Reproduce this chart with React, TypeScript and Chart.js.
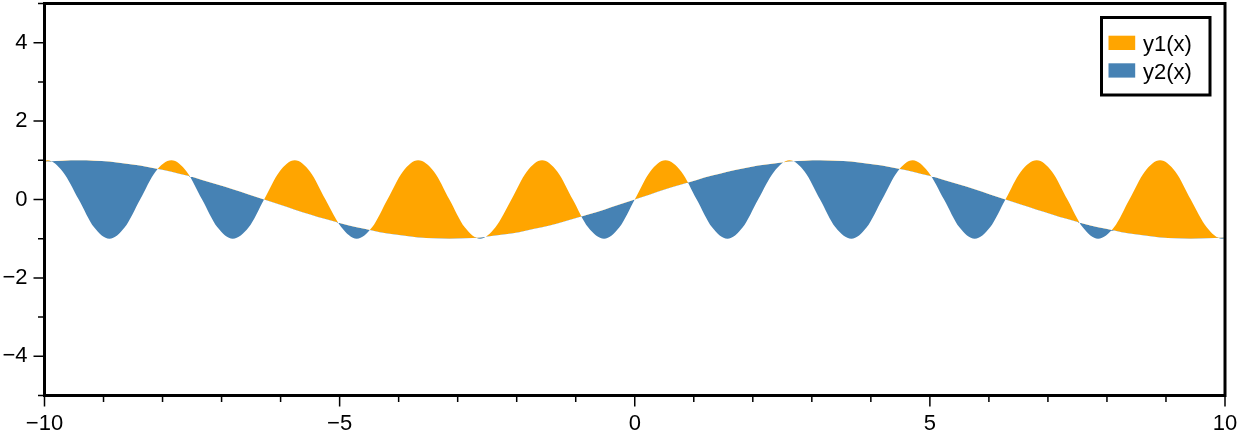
import React, { useEffect, useRef } from 'react';
import { Chart, registerables, Plugin } from 'chart.js';

Chart.register(...registerables);

// sample positions (denser where the fast curve turns)
const xValues = [
  -10, -9.95, -9.69, -9.42, -9.16, -8.9, -8.64, -8.38, -8.12, -7.85, -7.59, -7.33, -7.07, -6.81,
  -6.54, -6.28, -6.02, -5.76, -5.5, -5.24, -4.97, -4.71, -4.45, -4.19, -3.93, -3.67, -3.4, -3.14,
  -2.88, -2.62, -2.36, -2.09, -1.83, -1.57, -1.31, -1.05, -0.79, -0.52, -0.26, 0, 0.26, 0.52,
  0.79, 1.05, 1.31, 1.57, 1.83, 2.09, 2.36, 2.62, 2.88, 3.14, 3.4, 3.67, 3.93, 4.19, 4.45, 4.71,
  4.97, 5.24, 5.5, 5.76, 6.02, 6.28, 6.54, 6.81, 7.07, 7.33, 7.59, 7.85, 8.12, 8.38, 8.64, 8.9,
  9.16, 9.42, 9.69, 9.95, 10,
];

// y1(x): the fast wave
const y1Values = [
  0.99,
  1, 0.71, 0, -0.71, -1, -0.71, 0, 0.71,
  1, 0.71, 0, -0.71, -1, -0.71, 0, 0.71,
  1, 0.71, 0, -0.71, -1, -0.71, 0, 0.71,
  1, 0.71, 0, -0.71, -1, -0.71, 0, 0.71,
  1, 0.71, 0, -0.71, -1, -0.71,
  0,
  0.71, 1, 0.71, 0, -0.71, -1, -0.71, 0,
  0.71, 1, 0.71, 0, -0.71, -1, -0.71, 0,
  0.71, 1, 0.71, 0, -0.71, -1, -0.71, 0,
  0.71, 1, 0.71, 0, -0.71, -1, -0.71, 0,
  0.71, 1, 0.71, 0, -0.71, -1,
  -0.99,
];

// y2(x): the slow wave
const y2Values = [
  0.96,
  0.97, 0.99, 1, 0.99, 0.97, 0.92, 0.87, 0.79, 0.71, 0.61, 0.5, 0.38, 0.26, 0.13,
  0, -0.13, -0.26, -0.38, -0.5, -0.61, -0.71, -0.79, -0.87, -0.92, -0.97, -0.99, -1,
  -0.99, -0.97, -0.92, -0.87, -0.79, -0.71, -0.61, -0.5, -0.38, -0.26, -0.13,
  0,
  0.13, 0.26, 0.38, 0.5, 0.61, 0.71, 0.79, 0.87, 0.92, 0.97, 0.99, 1, 0.99, 0.97, 0.92,
  0.87, 0.79, 0.71, 0.61, 0.5, 0.38, 0.26, 0.13, 0, -0.13, -0.26, -0.38, -0.5, -0.61,
  -0.71, -0.79, -0.87, -0.92, -0.97, -0.99, -1, -0.99, -0.97,
  -0.96,
];

const seriesNames = ['y1(x)', 'y2(x)'];
const xTickLabels = [-10, -5, 0, 5, 10];
const yTickLabels = [-4, -2, 0, 2, 4];

const ORANGE = '#FFA500';
const STEEL = '#4682B4';
const FONT = 'Liberation Sans, Arial, Helvetica, sans-serif';

const fmt = (v: number) => (v < 0 ? '\u2212' + Math.abs(v) : String(v));

// GMT-like frame, major/minor ticks and boxed legend
const framePlugin: Plugin<'line'> = {
  id: 'gmtFrame',
  afterDraw(chart) {
    const { ctx, chartArea: a } = chart;
    const xs = chart.scales.x;
    const ys = chart.scales.y;
    ctx.save();
    ctx.strokeStyle = '#000';
    ctx.lineWidth = 1.5;
    ctx.beginPath();
    xs.ticks.forEach((t) => {
      const px = xs.getPixelForValue(t.value);
      const len = xTickLabels.includes(t.value) ? 11 : 6.5;
      ctx.moveTo(px, a.bottom);
      ctx.lineTo(px, a.bottom + len);
    });
    ys.ticks.forEach((t) => {
      const py = ys.getPixelForValue(t.value);
      const len = yTickLabels.includes(t.value) ? 11 : 6.5;
      ctx.moveTo(a.left, py);
      ctx.lineTo(a.left - len, py);
    });
    ctx.stroke();

    ctx.lineWidth = 3;
    ctx.strokeRect(a.left, a.top, a.right - a.left, a.bottom - a.top);

    // legend
    const bw = 108.5;
    const bh = 77.5;
    const bx = a.right - 15 - bw;
    const by = a.top + 14;
    ctx.fillStyle = '#fff';
    ctx.fillRect(bx, by, bw, bh);
    ctx.strokeRect(bx, by, bw, bh);
    const colors = [ORANGE, STEEL];
    ctx.font = `22px ${FONT}`;
    ctx.textBaseline = 'alphabetic';
    ctx.textAlign = 'left';
    seriesNames.forEach((name, i) => {
      const rowY = by + 18.2 + i * 27.6;
      ctx.fillStyle = colors[i];
      ctx.fillRect(bx + 7, rowY, 26.7, 14.3);
      ctx.fillStyle = '#000';
      ctx.fillText(name, bx + 41.5, by + 33.8 + i * 27.6);
    });
    ctx.restore();
  },
};

export default function App() {
  const chartRef = useRef<HTMLCanvasElement>(null);
  const chartInstance = useRef<Chart | null>(null);

  useEffect(() => {
    if (!chartRef.current) return;
    if (chartInstance.current) {
      chartInstance.current.destroy();
    }
    const ctx = chartRef.current.getContext('2d');
    if (!ctx) return;

    chartInstance.current = new Chart(ctx, {
      type: 'line',
      data: {
        datasets: [
          {
            label: seriesNames[0],
            data: xValues.map((x, i) => ({ x, y: y1Values[i] })),
            borderColor: 'transparent',
            borderWidth: 0,
            backgroundColor: ORANGE,
            pointRadius: 0,
            cubicInterpolationMode: 'monotone',
            fill: { target: 1, above: ORANGE, below: STEEL },
          },
          {
            label: seriesNames[1],
            data: xValues.map((x, i) => ({ x, y: y2Values[i] })),
            borderColor: 'transparent',
            borderWidth: 0,
            backgroundColor: STEEL,
            pointRadius: 0,
            cubicInterpolationMode: 'monotone',
            fill: false,
          },
        ],
      },
      options: {
        responsive: true,
        maintainAspectRatio: false,
        animation: false,
        layout: { padding: { top: 3.5, right: 13, bottom: 0, left: 0 } },
        plugins: {
          legend: { display: false },
          tooltip: { enabled: false },
        },
        scales: {
          x: {
            type: 'linear',
            min: -10,
            max: 10,
            grid: { display: false, drawTicks: false },
            border: { display: false },
            ticks: {
              stepSize: 1,
              autoSkip: false,
              maxRotation: 0,
              padding: 15,
              color: '#000',
              font: { family: FONT, size: 22 },
              callback: (v) => (xTickLabels.includes(Number(v)) ? fmt(Number(v)) : ''),
            },
            afterFit: (scale) => {
              scale.height = 36.5;
              scale.paddingLeft = 0;
              scale.paddingRight = 0;
            },
          },
          y: {
            type: 'linear',
            min: -5,
            max: 5,
            grid: { display: false, drawTicks: false },
            border: { display: false },
            ticks: {
              stepSize: 1,
              autoSkip: false,
              padding: 17,
              color: '#000',
              font: { family: FONT, size: 22 },
              callback: (v) => (yTickLabels.includes(Number(v)) ? fmt(Number(v)) : ''),
            },
            afterFit: (scale) => {
              scale.width = 44.5;
              scale.paddingTop = 0;
              scale.paddingBottom = 0;
            },
          },
        },
      },
      plugins: [framePlugin],
    });

    return () => {
      if (chartInstance.current) {
        chartInstance.current.destroy();
        chartInstance.current = null;
      }
    };
  }, []);

  return (
    <div style={{ position: 'fixed', left: 0, top: 0, width: 1238, height: 432, background: '#fff' }}>
      <canvas ref={chartRef}></canvas>
    </div>
  );
}
